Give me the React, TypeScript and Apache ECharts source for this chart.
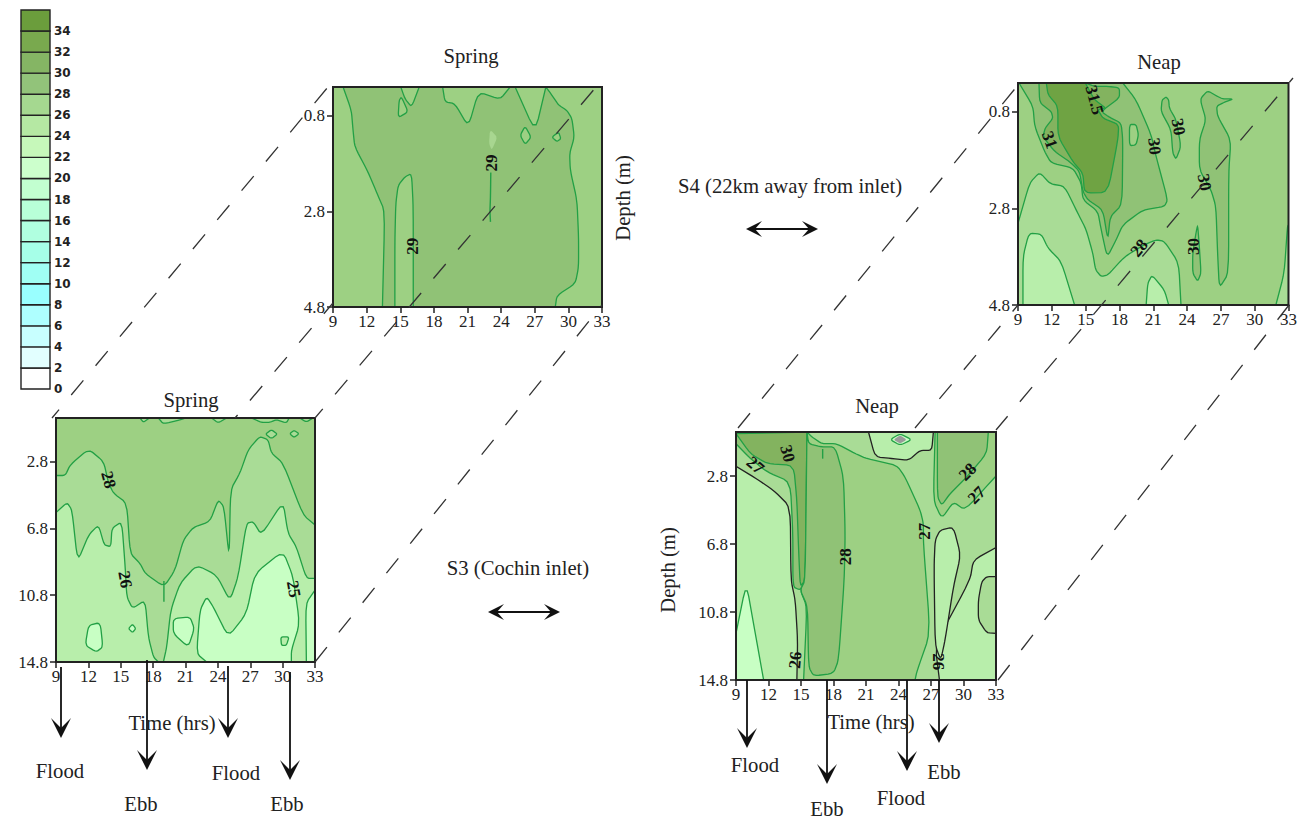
import React, { useEffect, useRef } from "react";
import * as echarts from "echarts";

type Pt = [number, number];

// Colour bands
const C27 = "#c8ffc4", C28 = "#b8eeab", C29 = "#a9dc96", C30 = "#9dd083", C31 = "#90c276", C32 = "#83b35f", C33 = "#6fa343";
const GREEN = "#22a045", BLACK = "#222222";

const legendStops = [0, 2, 4, 6, 8, 10, 12, 14, 16, 18, 20, 22, 24, 26, 28, 30, 32, 34];
const legendColors = ["#ffffff", "#e2ffff", "#c8ffff", "#aeffff", "#99ffff", "#a0fff4", "#a6ffe8", "#b0ffe0", "#b8ffd8", "#c2ffd0", "#ccffcc", "#c6f8ba", "#b5e8a3", "#a5d890", "#92c37a", "#85b564", "#79a94e", "#6b9d3c"];
const hourTicks = [9, 33];
const shallowDepthTicks = [0.8, 2.8, 4.8];
const deepDepthTicks = [2.8, 6.8, 10.8, 14.8];

// S4 spring contours (hour, depth)
const s4SpringBand: Pt[] = [[9.9,.2],[10.64,.69],[10.79,1.11],[10.94,1.45],[12.13,1.98],[12.94,2.43],[13.62,2.8],[13.41,4.8],[14.52,4.8],[14.52,3.41],[14.6,2.64],[14.81,2.26],[15.41,2.08],[16.01,2.01],[16.16,2.71],[16.16,4.8],[28.83,4.8],[28.98,4.56],[30.62,4.31],[30.91,3.96],[30.91,3.34],[30.77,2.57],[30.17,1.94],[30.11,1.59],[30.53,1.25],[30.32,.86],[29.87,.69],[29.13,.58],[28.53,.37],[27.99,.2],[27.04,1.14],[25.25,.2],[24.8,.2],[23.91,.46],[21.97,.3],[21.08,1.03],[19.88,.55],[18.99,.51],[18.78,.2],[16.69,.2],[16.01,.62],[15.41,.44],[15.05,.2]];
const s4SpringIsleA: Pt[] = [[14.9,.48],[15.11,.41],[15.71,.72],[14.81,.84]];
const s4SpringIsleB: Pt[] = [[25.7,1.21],[26.14,1.02],[26.68,1.25],[26.14,1.4]];
const s4SpringIsleC: Pt[] = [[28.53,1.25],[29.13,1.14],[29.33,1.28],[28.98,1.34]];
const s4SpringPale: Pt[] = [[23.01,1.09],[23.67,1.25],[23.16,1.52],[22.92,1.38]];
const s4SpringRidge: Pt[] = [[23.1,1.6],[23.05,2.5],[23.0,2.8],[23.05,3.02]];

// S4 neap contours
const s4NeapUpper: Pt[] = [[9.09,.2],[10.33,.68],[10.48,1.1],[11.36,1.62],[11.95,1.86],[13.87,1.96],[14.61,2.27],[14.76,2.62],[16.08,2.86],[16.38,3.24],[16.91,3.81],[17.71,3.45],[18.3,3.14],[20.07,2.83],[21.99,2.76],[22.28,2.62],[21.25,1.72],[20.81,1.27],[19.48,.55],[18.3,.2]];
const s4NeapLowerLeft: Pt[] = [[9,3.11],[10.03,2.27],[10.92,2.05],[11.86,2.29],[13.13,2.34],[14.31,2.9],[15.05,3.24],[15.64,3.73],[15.88,4.07],[16.38,4.21],[16.97,4.18],[18.45,3.8],[20.22,3.55],[21.25,3.45],[21.99,3.48],[23.26,3.93],[23.46,4.8],[9,4.8]];
const s4NeapLowerRight: Pt[] = [[31.88,4.8],[32.62,4.14],[32.91,3.17],[33,3.14],[33,4.8]];
const s4NeapInner: Pt[] = [[10.86,.2],[10.92,.61],[11.95,.79],[12.1,.93],[11.42,1.13],[11.21,1.31],[12.25,1.62],[13.58,1.83],[14.46,2.03],[14.76,2.45],[15.2,2.62],[16.53,2.83],[16.97,3.45],[17.18,2.97],[18.24,2.72],[18.3,1.38],[18.15,1.03],[17.12,.91],[16.38,.79],[18.0,.51],[18.0,.3],[16.97,.27],[15.79,.27],[14.97,.2]];
const s4NeapCore: Pt[] = [[11.51,.2],[11.66,.44],[12.54,.68],[12.54,1.31],[13.87,1.83],[14.76,2.07],[14.9,2.48],[16.97,2.47],[17.86,1.38],[17.94,1.06],[16.53,.93],[16.08,.75],[16.82,.72],[15.79,.55],[14.97,.2]];
const s4NeapHole: Pt[] = [[18.89,1.06],[19.48,1.06],[19.69,1.27],[19.48,1.48],[18.89,1.5]];
const s4NeapTongueA: Pt[] = [[21.78,.55],[22.14,.49],[22.37,.55],[22.43,.72],[23.02,.96],[23.46,1.51],[23.02,1.78],[22.73,1.65],[22.58,1.17],[21.69,.79]];
const s4NeapTongueB: Pt[] = [[25.24,.51],[25.83,.36],[26.56,.46],[27.15,.53],[28.1,.53],[27.3,.6],[26.62,.68],[26.71,.89],[27.89,1.38],[27.69,2.07],[27.69,4.14],[26.86,4.45],[26.71,3.73],[26.56,2.76],[26.12,2.41],[25.09,2.0],[25.09,1.38],[25.68,.96],[25.24,.61]];
const s4NeapTongueC: Pt[] = [[24.94,3.14],[25.09,3.59],[25.24,4.14],[24.94,4.31],[24.5,4.14],[24.5,3.73],[24.79,3.31]];
const s4NeapCoolA: Pt[] = [[9.44,4.8],[9.44,3.8],[9.97,3.31],[11.07,3.33],[11.66,3.62],[12.84,3.9],[14.02,4.8]];
const s4NeapCoolB: Pt[] = [[20.37,4.8],[20.51,4.35],[20.9,4.18],[21.99,4.49],[22.37,4.8]];

// S3 spring contours
const s3SpringMid: Pt[] = [[9,3.64],[9.86,3.64],[10.32,3.0],[12.02,2.06],[13.41,2.8],[13.87,4.1],[14.33,4.7],[15.56,5.3],[15.87,8.3],[16.79,8.9],[17.26,9.5],[19.01,10.3],[20.03,9.3],[20.8,7.5],[21.72,6.74],[23.26,6.4],[24.03,5.1],[24.56,5.5],[25.05,8.6],[25.17,4.5],[26.04,3.5],[26.81,2.1],[27.88,1.3],[28.66,1.5],[28.96,2.3],[30.04,2.9],[31.89,6.0],[33,6.6],[33,14.8],[9,14.8]];
const s3SpringLow: Pt[] = [[9,5.86],[10.02,5.26],[10.48,5.7],[11,8.8],[12.02,7.2],[12.94,6.6],[13.47,7.8],[14.08,7.9],[14.18,6.8],[15.1,6.4],[15.41,9.1],[15.56,10.9],[16.09,11.6],[17.26,11.1],[17.56,13.3],[18.03,14.5],[18.49,14.8],[18.95,14.8],[19.26,13.9],[19.63,11.7],[20.49,10.1],[22.03,9.0],[23.88,9.6],[25.11,11.14],[25.88,9.7],[26.65,6.5],[27.27,6.4],[28.04,7.2],[30.04,5.2],[30.5,7.1],[31.27,7.9],[32.2,9.8],[33,9.8],[33,14.8],[9,14.8]];
const s3SpringCool: Pt[] = [[22.03,14.3],[22.34,11.7],[22.96,10.9],[23.57,11.5],[24.96,13.3],[26.65,11.9],[27.42,9.5],[30.04,8.16],[30.97,9.7],[31.58,12.5],[30.81,14.1],[30.81,14.8],[22.96,14.8]];
const s3SpringCoolEdge: Pt[] = [[32.2,14.8],[32.14,11.3],[33,10.5],[33,14.8]];
const s3SpringPoolA: Pt[] = [[12.02,12.6],[13.1,12.44],[13.34,13.9],[12.73,14.2],[11.71,13.8]];
const s3SpringPoolB: Pt[] = [[19.87,12.2],[21.42,12.1],[21.82,12.8],[21.26,13.9],[19.87,13.1]];
const s3SpringPoolC: Pt[] = [[15.72,12.8],[16.09,12.54],[16.39,12.8],[16.09,13.04]];
const s3SpringPoolD: Pt[] = [[29.83,13.3],[30.6,13.3],[30.35,13.8],[29.89,13.8]];
const s3SpringTopA: Pt[] = [[16.79,.2],[17.1,.46],[17.66,.2]];
const s3SpringTopB: Pt[] = [[18.49,.2],[18.95,.56],[20.8,.26],[20.95,.2]];
const s3SpringTopC: Pt[] = [[23.42,.2],[24.03,.5],[24.8,.2]];
const s3SpringTopD: Pt[] = [[27.11,.2],[28.04,.46],[28.81,.46],[29.43,.3],[30.35,.5],[30.6,.2]];
const s3SpringTopE: Pt[] = [[31.58,.2],[32.2,.44],[32.81,.2]];
const s3SpringTopF: Pt[] = [[28.41,1.16],[28.96,.9],[29.52,1.16],[28.96,1.44]];
const s3SpringTopG: Pt[] = [[30.66,1.14],[31.06,.94],[31.52,1.14],[31.06,1.36]];
const s3SpringSpike: Pt[] = [[19.0,9.95],[19.0,11.2]];

// S3 neap contours
const s3NeapMain: Pt[] = [[9,.2],[21.23,.2],[21.85,1.67],[23.54,1.77],[24.92,1.87],[26,1.28],[27.07,1.28],[27.22,.2],[33,.2],[33,7],[30.91,7.74],[30.6,8.92],[27.38,12.74],[27.78,14.8],[14.62,14.8],[14.69,12.45],[14.47,10.1],[14.07,8.92],[14.01,4.61],[12.47,3.63],[10.63,2.85],[9,2.22]];
const s3NeapLoop: Pt[] = [[27.38,6.57],[27.84,5.98],[29.07,5.79],[29.74,7.45],[29.07,9.31],[28.3,12.45],[27.9,13.62],[27.38,12.74],[27.28,8.14]];
const s3NeapIsland: Pt[] = [[31.37,10.1],[31.68,9.02],[32.14,8.72],[33,8.72],[33,12.06],[32.14,12.02],[31.37,11.27]];
const s3NeapSpotOuter: Pt[] = [[23.23,.65],[24.15,.3],[25.23,.65],[24.15,.98]];
const s3NeapSpotInner: Pt[] = [[23.54,.65],[24.15,.4],[24.77,.65],[24.15,.89]];
const s3NeapCool: Pt[] = [[9,12.06],[9.95,9.08],[10.78,12.06],[11.55,14.8],[9,14.8]];
const s3NeapCentre: Pt[] = [[15.55,.2],[16.01,.49],[16.93,.89],[18.31,.89],[20,1.47],[21.08,1.77],[23.84,2.16],[24.61,2.85],[26,4.8],[26.3,5.59],[26.3,6.76],[26.92,12.06],[25.69,14.31],[25.53,14.8],[15.24,14.8],[15.55,10.49],[14.93,9.51],[15.39,8.92]];
const s3NeapCore: Pt[] = [[15.55,.2],[15.7,.89],[16.93,1.08],[18.16,1.08],[18.93,2.85],[19.08,6.18],[18.99,8.92],[18.47,13.62],[18,14.41],[16.16,14.56],[15.7,14.02],[15.61,10.49],[14.93,9.51],[15.39,8.92]];
const s3NeapTick: Pt[] = [[17.0,1.2],[17.0,1.77]];
const s3NeapWedge: Pt[] = [[9,.89],[10.17,1.67],[11.86,2.55],[14.01,3.14],[14.25,6.18],[14.25,9.31],[14.93,9.51],[15.39,8.92],[15.55,.2],[9,.2]];
const s3NeapWedgeCore: Pt[] = [[9,.3],[10.32,1.47],[11.86,2.06],[14.32,2.16],[14.62,4.22],[14.78,7.16],[14.93,9.31],[15.39,8.92],[15.55,.2]];
const s3NeapRight: Pt[] = [[27.38,.2],[27.22,4.22],[27.99,5.3],[29.07,4.32],[30.14,4.8],[32.91,2.85],[33,2.8],[33,.2]];
const s3NeapRightCore: Pt[] = [[27.59,.2],[27.59,4.02],[27.99,4.51],[28.76,3.83],[30.3,2.85],[32.14,1.47],[32.29,.2]];

type Region = { pts: Pt[]; fill?: string; stroke?: string; open?: boolean };
type Label = { h: number; d: number; t: string; rot: number; bg?: string };

const regionsA: Region[] = [
  { pts: s4SpringBand, fill: C31, stroke: GREEN },
  { pts: s4SpringIsleA, fill: C30, stroke: GREEN },
  { pts: s4SpringIsleB, fill: C30, stroke: GREEN },
  { pts: s4SpringIsleC, fill: C30, stroke: GREEN },
  { pts: s4SpringPale, fill: "#a8d690" },
  { pts: s4SpringRidge, stroke: GREEN, open: true },
];
const regionsB: Region[] = [
  { pts: s4NeapLowerLeft, fill: C29, stroke: GREEN },
  { pts: s4NeapLowerRight, fill: C29, stroke: GREEN },
  { pts: s4NeapCoolA, fill: C28, stroke: GREEN },
  { pts: s4NeapCoolB, fill: C28, stroke: GREEN },
  { pts: s4NeapUpper, fill: C31, stroke: GREEN },
  { pts: s4NeapInner, fill: C32, stroke: GREEN },
  { pts: s4NeapCore, fill: C33, stroke: GREEN },
  { pts: s4NeapHole, fill: C30, stroke: GREEN },
  { pts: s4NeapTongueA, fill: C31, stroke: GREEN },
  { pts: s4NeapTongueB, fill: C31, stroke: GREEN },
  { pts: s4NeapTongueC, fill: C31, stroke: GREEN },
];
const regionsC: Region[] = [
  { pts: s3SpringMid, fill: C29, stroke: GREEN },
  { pts: s3SpringLow, fill: C28, stroke: GREEN },
  { pts: s3SpringCool, fill: C27, stroke: GREEN },
  { pts: s3SpringCoolEdge, fill: C27, stroke: GREEN },
  { pts: s3SpringPoolA, fill: C27, stroke: GREEN },
  { pts: s3SpringPoolB, fill: C27, stroke: GREEN },
  { pts: s3SpringPoolC, fill: C27, stroke: GREEN },
  { pts: s3SpringPoolD, fill: C28, stroke: GREEN },
  { pts: s3SpringTopA, fill: C29, stroke: GREEN },
  { pts: s3SpringTopB, fill: C29, stroke: GREEN },
  { pts: s3SpringTopC, fill: C29, stroke: GREEN },
  { pts: s3SpringTopD, fill: C29, stroke: GREEN },
  { pts: s3SpringTopE, fill: C29, stroke: GREEN },
  { pts: s3SpringTopF, fill: C29, stroke: GREEN },
  { pts: s3SpringTopG, fill: C29, stroke: GREEN },
  { pts: s3SpringSpike, stroke: GREEN, open: true },
];
const regionsD: Region[] = [
  { pts: s3NeapCool, fill: C27, stroke: GREEN },
  { pts: s3NeapMain, fill: C29, stroke: BLACK },
  { pts: s3NeapLoop, fill: C28, stroke: BLACK },
  { pts: s3NeapIsland, fill: C29, stroke: BLACK },
  { pts: s3NeapSpotOuter, fill: C27, stroke: GREEN },
  { pts: s3NeapSpotInner, fill: "#9a9a9a" },
  { pts: s3NeapCentre, fill: C30, stroke: GREEN },
  { pts: s3NeapWedge, fill: C31, stroke: GREEN },
  { pts: s3NeapWedgeCore, fill: C32, stroke: GREEN },
  { pts: s3NeapCore, fill: C31, stroke: GREEN },
  { pts: s3NeapRight, fill: C30, stroke: GREEN },
  { pts: s3NeapRightCore, fill: C31, stroke: GREEN },
  { pts: s3NeapTick, stroke: GREEN, open: true },
];

const labelsA: Label[] = [
  { h: 23.1, d: 1.79, t: "29", rot: 90, bg: C31 },
  { h: 16.1, d: 3.53, t: "29", rot: 90 },
];
const labelsB: Label[] = [
  { h: 15.79, d: .55, t: "31.5", rot: -75 },
  { h: 11.8, d: 1.38, t: "31", rot: -70 },
  { h: 21.1, d: 1.51, t: "30", rot: -85 },
  { h: 23.23, d: 1.11, t: "30", rot: -80 },
  { h: 25.53, d: 2.26, t: "30", rot: -80 },
  { h: 24.56, d: 3.59, t: "30", rot: 90 },
  { h: 19.75, d: 3.62, t: "28", rot: 50 },
];
const labelsC: Label[] = [
  { h: 13.87, d: 3.9, t: "28", rot: -75 },
  { h: 15.41, d: 9.86, t: "26", rot: -80 },
  { h: 31.03, d: 10.44, t: "25", rot: -80 },
];
const labelsD: Label[] = [
  { h: 13.76, d: 1.47, t: "30", rot: -75 },
  { h: 10.78, d: 2.16, t: "27", rot: -40 },
  { h: 30.39, d: 2.55, t: "28", rot: 45 },
  { h: 31.22, d: 3.92, t: "27", rot: 45 },
  { h: 26.36, d: 6.04, t: "27", rot: 90 },
  { h: 19.14, d: 7.55, t: "28", rot: 90 },
  { h: 14.47, d: 13.62, t: "26", rot: 85 },
  { h: 27.68, d: 13.72, t: "26", rot: -90 },
];

const SERIF = '"Liberation Serif", serif';

const panels = [
  { rect: { left: 333, top: 87, width: 269, height: 220 }, yMax: 4.8, ticks: shallowDepthTicks, regions: regionsA, labels: labelsA, base: C30 },
  { rect: { left: 1018, top: 83, width: 271, height: 222 }, yMax: 4.8, ticks: shallowDepthTicks, regions: regionsB, labels: labelsB, base: C30 },
  { rect: { left: 56, top: 418, width: 259, height: 244 }, yMax: 14.8, ticks: deepDepthTicks, regions: regionsC, labels: labelsC, base: C30 },
  { rect: { left: 736, top: 432, width: 260, height: 248 }, yMax: 14.8, ticks: deepDepthTicks, regions: regionsD, labels: labelsD, base: C28 },
];

const captions = [
  { t: "Spring", x: 471, y: 56 }, { t: "Neap", x: 1159, y: 62 }, { t: "Spring", x: 191, y: 400 }, { t: "Neap", x: 877, y: 406 },
  { t: "S4 (22km away from inlet)", x: 790, y: 186 }, { t: "S3 (Cochin inlet)", x: 518, y: 568 },
  { t: "Time (hrs)", x: 172, y: 723 }, { t: "Time (hrs)", x: 871, y: 722 },
  { t: "Flood", x: 60, y: 771 }, { t: "Ebb", x: 141, y: 804 }, { t: "Flood", x: 236, y: 773 }, { t: "Ebb", x: 287, y: 804 },
  { t: "Flood", x: 755, y: 765 }, { t: "Ebb", x: 827, y: 809 }, { t: "Flood", x: 901, y: 798 }, { t: "Ebb", x: 944, y: 772 },
];
const depthCaptions = [{ x: 623, y: 198 }, { x: 668, y: 570 }];
const connectors = [
  [52, 418, 328, 87, 8], [235, 418, 333, 303, 15], [315, 418, 602, 80, 7], [315, 662, 602, 305, 0],
  [738, 428, 1018, 85, 0], [915, 428, 1018, 305, 0], [996, 430, 1293, 78, 1], [998, 680, 1289, 305, 0],
];
const downArrows = [
  [61, 667, 738], [147, 660, 770], [228, 666, 738], [290, 672, 780],
  [747, 680, 748], [827, 680, 784], [907, 680, 771], [939, 680, 743],
];
const sideArrows = [[746, 818, 229], [488, 560, 612]];

function buildGraphic() {
  const els: any[] = [];
  const font = `20.7px ${SERIF}`;
  captions.forEach((c) => els.push({ type: "text", z: 100, x: c.x, y: c.y, style: { text: c.t, font, fill: "#222", textAlign: "center", textVerticalAlign: "middle" } }));
  depthCaptions.forEach((c) => els.push({ type: "text", z: 100, x: c.x, y: c.y, rotation: Math.PI / 2, style: { text: "Depth (m)", font, fill: "#222", textAlign: "center", textVerticalAlign: "middle" } }));
  connectors.forEach((l) => els.push({ type: "line", z: 90, shape: { x1: l[0], y1: l[1], x2: l[2], y2: l[3] }, style: { stroke: "#333", lineWidth: 1.3, lineDash: [19, 19], lineDashOffset: l[4] } }));
  downArrows.forEach(([x, y0, tip]) => {
    els.push({ type: "line", z: 95, shape: { x1: x, y1: y0, x2: x, y2: tip - 8 }, style: { stroke: "#111", lineWidth: 1.8 } });
    els.push({ type: "polygon", z: 95, shape: { points: [[x, tip], [x - 10, tip - 20], [x, tip - 10], [x + 10, tip - 20]] }, style: { fill: "#111" } });
  });
  sideArrows.forEach(([a, b, y]) => {
    els.push({ type: "line", z: 95, shape: { x1: a + 4, y1: y, x2: b - 4, y2: y }, style: { stroke: "#111", lineWidth: 1.8 } });
    els.push({ type: "polygon", z: 95, shape: { points: [[a, y], [a + 16, y - 8], [a + 9, y], [a + 16, y + 8]] }, style: { fill: "#111" } });
    els.push({ type: "polygon", z: 95, shape: { points: [[b, y], [b - 16, y - 8], [b - 9, y], [b - 16, y + 8]] }, style: { fill: "#111" } });
  });
  return els;
}

// Softens contour corners; vertices lying on the plot frame stay where they are.
function rounded(pts: Pt[], closed: boolean, yMax: number): Pt[] {
  const onFrame = (q: Pt) => q[0] <= 9 || q[0] >= 33 || q[1] <= 0.2 || q[1] >= yMax;
  let cur = pts;
  for (let it = 0; it < 2; it++) {
    const next: Pt[] = [];
    const n = cur.length;
    cur.forEach((q, i) => {
      if (onFrame(q) || (!closed && (i === 0 || i === n - 1))) { next.push(q); return; }
      const a = cur[(i - 1 + n) % n], b = cur[(i + 1) % n];
      next.push([q[0] + (a[0] - q[0]) * 0.16, q[1] + (a[1] - q[1]) * 0.16]);
      next.push([q[0] + (b[0] - q[0]) * 0.16, q[1] + (b[1] - q[1]) * 0.16]);
    });
    cur = next;
  }
  return cur;
}

function buildOption() {
  const grid: any[] = [], xAxis: any[] = [], yAxis: any[] = [], series: any[] = [];
  panels.forEach((p, i) => {
    grid.push({ ...p.rect, show: true, backgroundColor: p.base, borderWidth: 0, containLabel: false });
    xAxis.push({
      type: "value", gridIndex: i, min: hourTicks[0], max: hourTicks[1], interval: 3, z: 6,
      axisLine: { lineStyle: { color: "#222", width: 2 } }, axisTick: { length: 6, lineStyle: { color: "#222", width: 1.5 } },
      axisLabel: { color: "#222", fontFamily: SERIF, fontSize: 17, margin: 6, hideOverlap: false }, splitLine: { show: false },
    });
    yAxis.push({
      type: "value", gridIndex: i, inverse: true, min: 0.2, max: p.yMax, z: 6,
      axisLine: { lineStyle: { color: "#222", width: 2 } },
      axisTick: { length: 6, customValues: p.ticks, lineStyle: { color: "#222", width: 1.5 } },
      axisLabel: { customValues: p.ticks, color: "#222", fontFamily: SERIF, fontSize: 17, margin: 8, formatter: (v: number) => v.toFixed(1) }, splitLine: { show: false },
    });
    series.push({
      type: "custom", xAxisIndex: i, yAxisIndex: i, z: 2, silent: true, clip: true,
      data: p.regions.map((r) => r.pts[0]),
      renderItem: (params: any, api: any) => {
        const r = p.regions[params.dataIndex];
        const points = rounded(r.pts, !r.open, p.yMax).map((q) => api.coord(q));
        if (r.open) return { type: "polyline", shape: { points }, style: { stroke: r.stroke, lineWidth: 1.4, fill: null } };
        return { type: "polygon", shape: { points }, style: { fill: r.fill, stroke: r.stroke || null, lineWidth: 1.3 } };
      },
    });
    series.push({
      type: "custom", xAxisIndex: i, yAxisIndex: i, z: 4, silent: true, clip: false,
      data: [[hourTicks[0], 0.2, hourTicks[1], p.yMax]],
      renderItem: (_: any, api: any) => {
        const a = api.coord([api.value(0), api.value(1)]);
        const b = api.coord([api.value(2), api.value(3)]);
        return { type: "rect", shape: { x: a[0], y: a[1], width: b[0] - a[0], height: b[1] - a[1] }, style: { fill: null, stroke: "#222", lineWidth: 2 } };
      },
    });
    series.push({
      type: "custom", xAxisIndex: i, yAxisIndex: i, z: 5, silent: true, clip: false,
      data: p.labels.map((l) => [l.h, l.d]),
      renderItem: (params: any, api: any) => {
        const l = p.labels[params.dataIndex];
        const c = api.coord([l.h, l.d]);
        return { type: "text", x: c[0], y: c[1], rotation: (l.rot * Math.PI) / 180, style: { text: l.t, font: `bold 17px ${SERIF}`, fill: "#111", textAlign: "center", textVerticalAlign: "middle", backgroundColor: l.bg, padding: l.bg ? [0, 1] : 0 } };
      },
    });
  });
  // Colour key
  const k = panels.length;
  grid.push({ left: 21, top: 10, width: 29, height: 379 });
  xAxis.push({ type: "value", gridIndex: k, min: 0, max: 1, show: false });
  yAxis.push({
    type: "value", gridIndex: k, min: 0, max: 36, interval: 2, position: "right", axisLine: { show: false }, axisTick: { show: false }, splitLine: { show: false },
    axisLabel: { color: "#222", fontFamily: '"DejaVu Sans", sans-serif', fontWeight: "bold", fontSize: 12, margin: 4, formatter: (v: number) => (v === 36 ? "" : String(v)) },
  });
  series.push({
    type: "custom", xAxisIndex: k, yAxisIndex: k, silent: true,
    data: legendStops.map((s) => [0, s, 1, s + 2]),
    renderItem: (params: any, api: any) => {
      const a = api.coord([api.value(0), api.value(3)]);
      const b = api.coord([api.value(2), api.value(1)]);
      return { type: "rect", shape: { x: a[0], y: a[1], width: b[0] - a[0], height: b[1] - a[1] }, style: { fill: legendColors[params.dataIndex], stroke: "#222", lineWidth: 1.4 } };
    },
  });
  return { animation: false, backgroundColor: "#ffffff", grid, xAxis, yAxis, series, graphic: { elements: buildGraphic() } };
}

export default function App() {
  const ref = useRef<HTMLDivElement>(null);
  useEffect(() => {
    document.body.style.margin = "0";
    const chart = echarts.init(ref.current!, undefined, { renderer: "svg" });
    chart.setOption(buildOption() as any);
    return () => chart.dispose();
  }, []);
  return <div ref={ref} style={{ width: 1300, height: 821 }} />;
}
